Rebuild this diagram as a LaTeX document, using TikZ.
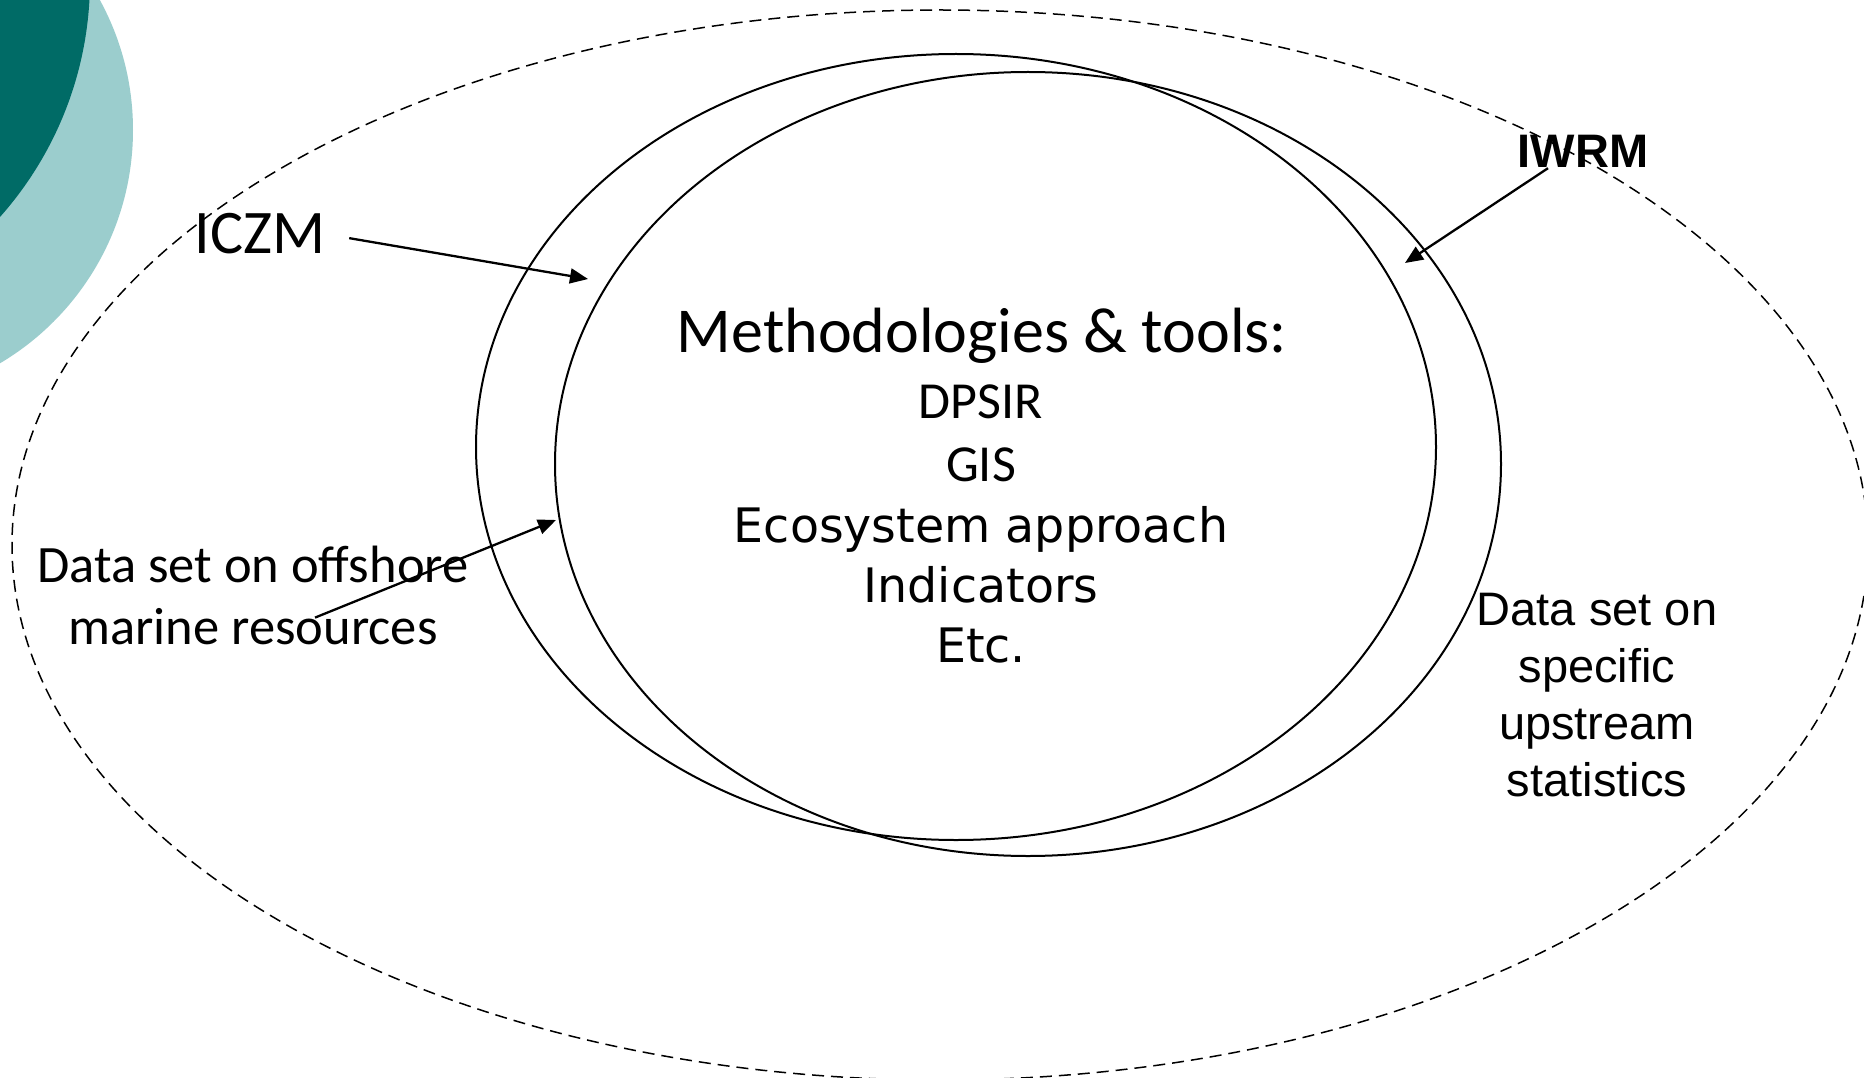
\documentclass[tikz,border=0pt]{standalone}
\usepackage{fontspec}
\usepackage{tikz}
\usetikzlibrary{arrows.meta}

\newfontfamily\calibrifont{Carlito}
\newfontfamily\arialfont{Liberation Sans}
\newfontfamily\verdanafont{DejaVu Sans}

\definecolor{tealdark}{RGB}{0,107,102}
\definecolor{teallight}{RGB}{155,205,205}

\tikzset{
  ring/.style={draw=black, line width=2pt},
  outerring/.style={draw=black, line width=1.5pt, dash pattern=on 12pt off 7pt},
  pointer/.style={draw=black, line width=2.3pt, -{Triangle[length=18pt,width=15pt]}},
  tag/.style={inner sep=0pt, align=center},
}

\begin{document}
\begin{tikzpicture}[x=1pt,y=-1pt]

                \useasboundingbox[fill=white] (0,0) rectangle (1864,1078);
                \clip (0,0) rectangle (1864,1078);

                % corner decoration
                \fill[teallight] (-138,130) circle[radius=271pt];
                \fill[tealdark] (-267,-20) circle[radius=357pt];

                \draw[outerring] (940,545) ellipse[x radius=928pt, y radius=535pt];
                \draw[ring] (956,447) ellipse[x radius=480pt, y radius=393pt];
                \draw[ring] (1028,464) ellipse[x radius=473pt, y radius=392pt];

                \node[tag, anchor=base, font=\calibrifont\fontsize{62}{74}\selectfont] (iczm) at (260,254) {ICZM};
                \node[tag, anchor=base, font=\arialfont\bfseries\fontsize{47}{56}\selectfont] (iwrm) at (1583,168) {IWRM};
                \node[tag, anchor=north, font=\calibrifont\fontsize{52.5}{62}\selectfont] (offshore) at (253,546) {Data set on offshore\\marine resources};
                \node[tag, anchor=north, font=\arialfont\fontsize{47}{57}\selectfont] (upstream) at (1597,593) {Data set on\\specific\\upstream\\statistics};

                \node[tag, anchor=base, font=\calibrifont\fontsize{64}{76}\selectfont] (methods) at (982,352) {Methodologies \& tools:};
                \node[tag, anchor=base, font=\calibrifont\fontsize{52}{62}\selectfont] (dpsir) at (981,418) {DPSIR};
                \node[tag, anchor=base, font=\calibrifont\fontsize{52}{62}\selectfont] (gis) at (981,481) {GIS};
                \node[tag, anchor=base, font=\verdanafont\fontsize{47.5}{56}\selectfont] (ecosystem) at (981,542) {Ecosystem approach};
                \node[tag, anchor=base, font=\verdanafont\fontsize{47.5}{56}\selectfont] (indicators) at (981,602) {Indicators};
                \node[tag, anchor=base, font=\verdanafont\fontsize{47.5}{56}\selectfont] (etc) at (981,662) {Etc.};

                \coordinate (iczm-tip) at (588,279);
                \coordinate (iwrm-tip) at (1405,263);
                \coordinate (offshore-tip) at (556,520);

                \draw[pointer, shorten <=24pt] (iczm.east) -- (iczm-tip); %
                \draw[pointer] ([xshift=-35pt]iwrm.south) -- (iwrm-tip); %
                \draw[pointer] ([xshift=62pt,yshift=-22pt]offshore.center) -- (offshore-tip); %

\end{tikzpicture}
\end{document}
